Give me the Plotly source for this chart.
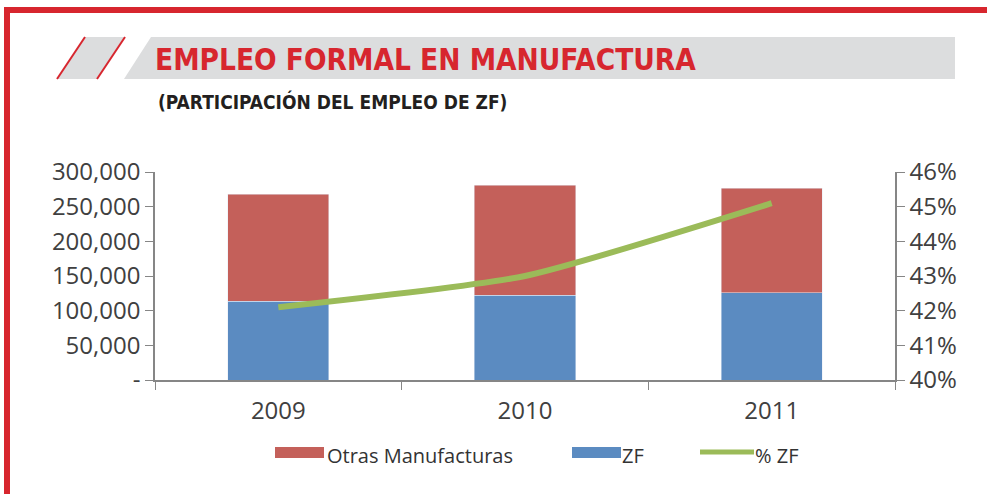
import plotly.graph_objects as go

years = ["2009", "2010", "2011"]
zf = [113900, 122600, 125500]
otras = [154300, 158600, 151400]
pct_zf = [0.421, 0.430, 0.451]
y_tickvals = [0, 50000, 100000, 150000, 200000, 250000, 300000]
y_ticktext = ["-", "50,000", "100,000", "150,000", "200,000", "250,000", "300,000"]

W, H = 987, 494
L, R, T, B = 155, 895, 172, 380


def px(x):
    return (x - L) / (R - L)


def py(y):
    return (B - y) / (B - T)


c_zf, c_otras, c_pct = "#5B8BC1", "#C4605A", "#9BBB59"

fig = go.Figure()
fig.add_trace(go.Bar(x=years, y=zf, name="ZF", marker_color=c_zf))
fig.add_trace(go.Bar(x=years, y=otras, name="Otras Manufacturas",
                     marker_color=c_otras))
fig.add_trace(go.Scatter(x=years, y=pct_zf, name="% ZF", yaxis="y2",
                         mode="lines", line=dict(color=c_pct, width=6,
                                                 shape="spline", smoothing=0.55)))

red = "#D7262E"
gray = "#DCDDDE"
shapes = [
    # page border
    dict(type="rect", xref="paper", yref="paper", x0=px(4), x1=px(987),
         y0=py(7), y1=py(13), fillcolor=red, line_width=0, layer="below"),
    dict(type="rect", xref="paper", yref="paper", x0=px(4), x1=px(10),
         y0=py(7), y1=py(494), fillcolor=red, line_width=0, layer="below"),
    # title band
    dict(type="path", xref="paper", yref="paper",
         path=f"M{px(124)},{py(79)} L{px(151)},{py(37)} L{px(955)},{py(37)} L{px(955)},{py(79)} Z",
         fillcolor=gray, line_width=0, layer="below"),
    dict(type="path", xref="paper", yref="paper",
         path=f"M{px(57)},{py(79)} L{px(85)},{py(37)} L{px(124)},{py(37)} L{px(97)},{py(79)} Z",
         fillcolor=gray, line_width=0, layer="below"),
    dict(type="line", xref="paper", yref="paper", x0=px(57), y0=py(79),
         x1=px(85), y1=py(37), line=dict(color=red, width=2)),
    dict(type="line", xref="paper", yref="paper", x0=px(97), y0=py(79),
         x1=px(125), y1=py(37), line=dict(color=red, width=2)),
    # legend swatches
    dict(type="rect", xref="paper", yref="paper", x0=px(275), x1=px(324),
         y0=py(447), y1=py(458), fillcolor=c_otras, line_width=0),
    dict(type="rect", xref="paper", yref="paper", x0=px(572), x1=px(621),
         y0=py(447), y1=py(458), fillcolor=c_zf, line_width=0),
    dict(type="line", xref="paper", yref="paper", x0=px(700), x1=px(754),
         y0=py(452), y1=py(452), line=dict(color=c_pct, width=5)),
]

cond = "Liberation Sans Narrow, DejaVu Sans Condensed, sans-serif"
leg_font = dict(family="Open Sans, sans-serif", size=20, color="#333333")
annotations = [
    dict(text="<b>EMPLEO FORMAL EN MANUFACTURA</b>", xref="paper", yref="paper",
         x=px(153), y=py(60), xanchor="left", yanchor="middle", showarrow=False,
         font=dict(family=cond, size=29.5, color="#D7262E")),
    dict(text="<b>(PARTICIPACIÓN DEL EMPLEO DE ZF)</b>", xref="paper", yref="paper",
         x=px(156), y=py(101), xanchor="left", yanchor="middle", showarrow=False,
         font=dict(family=cond, size=19, color="#231F20")),
    dict(text="Otras Manufacturas", xref="paper", yref="paper", x=px(325),
         y=py(455), xanchor="left", yanchor="middle", showarrow=False, font=leg_font),
    dict(text="ZF", xref="paper", yref="paper", x=px(620),
         y=py(455), xanchor="left", yanchor="middle", showarrow=False, font=leg_font),
    dict(text="% ZF", xref="paper", yref="paper", x=px(753),
         y=py(455), xanchor="left", yanchor="middle", showarrow=False, font=leg_font),
]

axis_color = "#868686"
tick_font = dict(family="Open Sans, sans-serif", size=24, color="#404040")

fig.update_layout(
    width=W, height=H,
    margin=dict(l=L, r=W - R, t=T, b=H - B, pad=0),
    paper_bgcolor="white", plot_bgcolor="white",
    barmode="stack", bargap=0.59,
    showlegend=False,
    xaxis=dict(type="category", showline=True, linecolor=axis_color, linewidth=1.5,
               ticks="outside", tickson="boundaries", ticklen=8, tickcolor=axis_color,
               tickfont=tick_font, showgrid=False, ticklabelstandoff=8),
    yaxis=dict(range=[0, 300000], tickvals=y_tickvals, ticktext=y_ticktext,
               showline=True, linecolor=axis_color, linewidth=1.5, ticks="outside",
               ticklen=8, tickcolor=axis_color, tickfont=tick_font, showgrid=False,
               zeroline=False),
    yaxis2=dict(range=[0.40, 0.46], dtick=0.01, tickformat=".0%", overlaying="y",
                side="right", showline=True, linecolor=axis_color, linewidth=1.5,
                ticks="outside", ticklen=8, tickcolor=axis_color, tickfont=tick_font,
                showgrid=False, zeroline=False),
    shapes=shapes,
    annotations=annotations,
)

fig.write_html("out.html", config={"displayModeBar": False},
               post_script="document.body.style.margin='0';")
